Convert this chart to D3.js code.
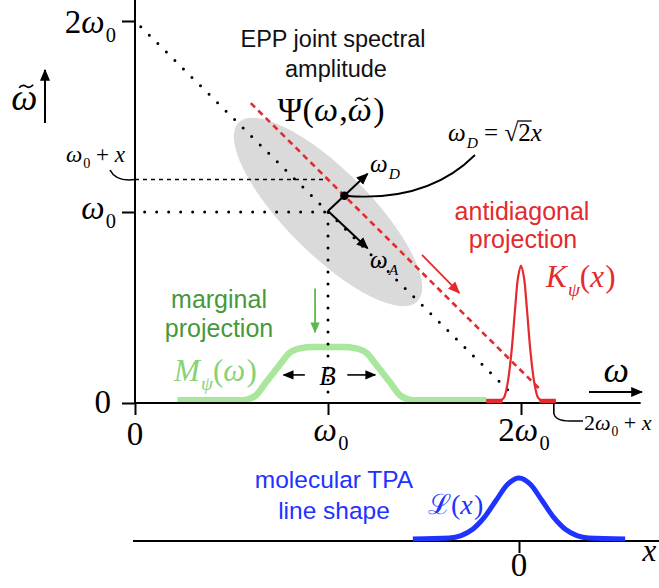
<!DOCTYPE html>
<html><head><meta charset="utf-8">
<script src="https://cdn.jsdelivr.net/npm/d3@7"></script>
<style>body{margin:0;background:#fff} svg{display:block} text{white-space:pre}</style>
</head><body>
<script>
// ---------- data (units of ω0) ----------
const omegaTicks = [0, 1, 2];
const shiftX = 0.17;                 // offset x of the antidiagonal projection line
const jsaCenter = [1, 1];            // centre of the joint spectral amplitude
const jsaSemiMajor = 0.655;
const jsaSemiMinor = 0.218;
const marginalCurve = [[0.22,0.015],[0.56,0.015],[0.62,0.035],[0.68,0.11],[0.715,0.155],[0.75,0.20],[0.80,0.262],[0.86,0.287],[0.92,0.293],[1.08,0.293],[1.14,0.287],[1.20,0.262],[1.25,0.20],[1.285,0.155],[1.32,0.11],[1.38,0.035],[1.44,0.015],[1.82,0.015]];
const kernelCurve = [[1.82,0.012],[1.89,0.012],[1.91,0.025],[1.93,0.10],[1.95,0.26],[1.97,0.50],[1.985,0.66],[2.0,0.72],[2.015,0.66],[2.03,0.50],[2.05,0.26],[2.07,0.10],[2.09,0.025],[2.11,0.012],[2.18,0.012]];
const lineShapeCurve = [[-0.55,0],[-0.36,0.005],[-0.30,0.018],[-0.24,0.051],[-0.18,0.113],[-0.12,0.20],[-0.06,0.285],[0,0.32],[0.06,0.285],[0.12,0.20],[0.18,0.113],[0.24,0.051],[0.30,0.018],[0.36,0.005],[0.55,0]];
const lineShapeTicks = [0];

// ---------- setup ----------
const W = 659, H = 588;
const SERIF = "'Liberation Serif','Times New Roman',serif";
const SANS = "'Liberation Sans',Arial,Helvetica,sans-serif";
const RED = "#e42a2e", GREEN_T = "#46993a", GREEN_A = "#5db84c", GREEN_M = "#87d276", GREEN_C = "#a9e79c", BLUE = "#1e33ff";
const SP = "\u00A0";

const svg = d3.select("body").append("svg").attr("width", W).attr("height", H);
const x = d3.scaleLinear().domain([0, 2]).range([135, 521]);
const y = d3.scaleLinear().domain([0, 2]).range([403, 21]);
const xb = d3.scaleLinear().domain([-1, 1]).range([326, 712]);
const yb = d3.scaleLinear().domain([0, 1]).range([539, 348]);

const defs = svg.append("defs");
function marker(id, color, size) {
  defs.append("marker").attr("id", id).attr("viewBox", "0 0 10 10").attr("refX", 9).attr("refY", 5)
    .attr("markerWidth", size).attr("markerHeight", size).attr("markerUnits", "userSpaceOnUse").attr("orient", "auto")
    .append("path").attr("d", "M0,0.8 L10,5 L0,9.2 Z").attr("fill", color);
}
marker("ahK", "#000", 12);
marker("ahR", RED, 12);
marker("ahG", GREEN_A, 11);
marker("ahKs", "#000", 11);

const line = d3.line().x(d => x(d[0])).y(d => y(d[1]));

// math text: parts = [[text, kind]] kind: i italic, r roman, s italic subscript, sr roman subscript, t italic with tilde
function mseq(px, py, parts, size, opts = {}) {
  const color = opts.color || "#000";
  const g = svg.append("g");
  let cx = 0; const info = [];
  parts.forEach(([s, k]) => {
    const sub = k === "s" || k === "sr";
    const fs = sub ? size * 0.62 : size;
    const t = g.append("text").attr("x", cx).attr("y", sub ? size * 0.28 : 0)
      .attr("font-family", SERIF).attr("font-size", fs).attr("fill", color).text(s);
    if (k === "i" || k === "s" || k === "t") t.attr("font-style", "italic");
    const w = t.node().getComputedTextLength();
    info.push({ x: cx, w });
    if (k === "t") {
      const c = cx + w / 2 + size * 0.05, ty = -size * 0.64;
      const a = size * 0.19;
      g.append("path").attr("d", `M${c - a},${ty + 1.5} C${c - a * 0.6},${ty - 2} ${c - a * 0.25},${ty - 1.2} ${c},${ty} S${c + a * 0.6},${ty + 2} ${c + a},${ty - 1.5}`)
        .attr("fill", "none").attr("stroke", color).attr("stroke-width", size * 0.045);
    }
    cx += w + ((k === "i" || k === "t") ? size * 0.04 : 0);
  });
  const anchor = opts.anchor || "start";
  const off = anchor === "middle" ? -cx / 2 : anchor === "end" ? -cx : 0;
  g.attr("transform", `translate(${px + off},${py})`);
  return { g, info, width: cx };
}
function stext(px, py, s, size, color, anchor = "middle") {
  return svg.append("text").attr("x", px).attr("y", py).attr("font-family", SANS).attr("font-size", size)
    .attr("fill", color).attr("text-anchor", anchor).text(s);
}

// ---------- JSA ellipse ----------
svg.append("ellipse").attr("cx", x(jsaCenter[0])).attr("cy", y(jsaCenter[1]))
  .attr("rx", x(jsaSemiMajor) - x(0)).attr("ry", x(jsaSemiMinor) - x(0))
  .attr("transform", `rotate(45 ${x(jsaCenter[0])} ${y(jsaCenter[1])})`)
  .attr("fill", "#dadada");

// ---------- marginal curve (green) ----------
svg.append("path").datum(marginalCurve).attr("d", line.curve(d3.curveMonotoneX))
  .attr("fill", "none").attr("stroke", GREEN_C).attr("stroke-width", 6.5).attr("stroke-linejoin", "round");

// ---------- dotted guide lines ----------
const dotted = (a, b) => svg.append("path").attr("d", d3.line()([[x(a[0]), y(a[1])], [x(b[0]), y(b[1])]]))
  .attr("stroke", "#000").attr("stroke-width", 3).attr("stroke-linecap", "round").attr("stroke-dasharray", "0 12").attr("fill", "none");
dotted([0.03, 1.97], [1.96, 0.04]);
dotted([0.05, 1], [1, 1]);
dotted([1, 1], [1, 0.03]);
svg.append("path").attr("d", d3.line()([[x(0), y(1 + shiftX)], [x(1), y(1 + shiftX)]]))
  .attr("stroke", "#000").attr("stroke-width", 1.6).attr("stroke-dasharray", "4 4").attr("fill", "none");
svg.append("path").attr("d", d3.line()([[x(0.6), y(1.57)], [x(2.1), y(0.07)]]))
  .attr("stroke", RED).attr("stroke-width", 2.6).attr("stroke-dasharray", "6 4.5").attr("fill", "none");

// ---------- axes ----------
const gx = svg.append("g").attr("transform", `translate(0,${y(0)})`)
  .call(d3.axisBottom(x).tickValues(omegaTicks).tickSize(12).tickSizeOuter(0).tickFormat(""));
gx.select(".domain").remove();
gx.selectAll("line").attr("stroke", "#000").attr("stroke-width", 2);
const gy = svg.append("g").attr("transform", `translate(${x(0)},0)`)
  .call(d3.axisLeft(y).tickValues(omegaTicks).tickSize(13).tickSizeOuter(0).tickFormat(""));
gy.select(".domain").remove();
gy.selectAll("line").attr("stroke", "#000").attr("stroke-width", 2);
svg.append("line").attr("x1", x(0)).attr("x2", x(2.62)).attr("y1", y(0)).attr("y2", y(0)).attr("stroke", "#000").attr("stroke-width", 2);
svg.append("line").attr("x1", x(0)).attr("x2", x(0)).attr("y1", y(0)).attr("y2", 0).attr("stroke", "#000").attr("stroke-width", 2);

// ---------- kernel (red) ----------
svg.append("path").datum(kernelCurve).attr("d", line.curve(d3.curveCatmullRom))
  .attr("fill", "none").attr("stroke", RED).attr("stroke-width", 2.2);
[[1.82, 1.905], [2.095, 2.18]].forEach(([a, b]) =>
  svg.append("line").attr("x1", x(a)).attr("x2", x(b)).attr("y1", y(0) - 2).attr("y2", y(0) - 2)
    .attr("stroke", RED).attr("stroke-width", 4.5));

// ---------- arrows ----------
const arrow = (p, q, color, w, m) => svg.append("line").attr("x1", x(p[0])).attr("y1", y(p[1])).attr("x2", x(q[0])).attr("y2", y(q[1]))
  .attr("stroke", color).attr("stroke-width", w).attr("marker-end", `url(#${m})`);
arrow([1, 1.005], [1.205, 1.2], "#000", 2, "ahK");
arrow([1, 1.005], [1.205, 0.81], "#000", 2, "ahK");
arrow([1.487, 0.775], [1.68, 0.577], RED, 1.8, "ahR");
arrow([0.933, 0.60], [0.933, 0.37], GREEN_A, 1.8, "ahG");
arrow([0.88, 0.147], [0.77, 0.147], "#000", 1.6, "ahKs");
arrow([1.10, 0.147], [1.245, 0.147], "#000", 1.6, "ahKs");

svg.append("circle").attr("cx", x(1 + shiftX / 2)).attr("cy", y(1 + shiftX / 2)).attr("r", 4.3).attr("fill", "#000");

// callouts
svg.append("path").attr("d", `M${x(1 + shiftX / 2)},${y(1 + shiftX / 2)} C395,200 440,190 475,155`).attr("fill", "none").attr("stroke", "#000").attr("stroke-width", 1.8);
svg.append("path").attr("d", `M110,170 Q116,182 ${x(0)},${y(1 + shiftX)}`).attr("fill", "none").attr("stroke", "#000").attr("stroke-width", 1.6);
svg.append("path").attr("d", `M${x(2 + shiftX)},${y(0)} L${x(2 + shiftX)},413 Q${x(2 + shiftX) + 1},421 570,421 L583,421`).attr("fill", "none").attr("stroke", "#000").attr("stroke-width", 1.6);

// axis direction arrows
svg.append("line").attr("x1", 589).attr("x2", 642).attr("y1", 392).attr("y2", 392).attr("stroke", "#000").attr("stroke-width", 2).attr("marker-end", "url(#ahK)");
svg.append("line").attr("x1", 45).attr("x2", 45).attr("y1", 123).attr("y2", 70).attr("stroke", "#000").attr("stroke-width", 2).attr("marker-end", "url(#ahK)");

// ---------- line shape (blue) ----------
svg.append("line").attr("x1", 133).attr("x2", W).attr("y1", 541).attr("y2", 541).attr("stroke", "#000").attr("stroke-width", 2);
svg.append("g").attr("transform", "translate(0,541)")
  .call(d3.axisBottom(xb).tickValues(lineShapeTicks).tickSize(12).tickSizeOuter(0).tickFormat(""))
  .call(g => g.select(".domain").remove())
  .selectAll("line").attr("stroke", "#000").attr("stroke-width", 2);
svg.append("path").datum(lineShapeCurve)
  .attr("d", d3.line().x(d => xb(d[0])).y(d => yb(d[1])).curve(d3.curveMonotoneX))
  .attr("fill", "none").attr("stroke", BLUE).attr("stroke-width", 5).attr("stroke-linecap", "butt");

// ---------- texts ----------
stext(333, 47, "EPP joint spectral", 23.5, "#111");
stext(336, 77, "amplitude", 23.5, "#111");
mseq(331, 121, [["Ψ(", "r"], ["ω", "i"], [",", "r"], ["ω", "t"], [")", "r"]], 34, { anchor: "middle" });
const wd = mseq(448, 141, [["ω", "i"], ["D", "s"], [SP + "=" + SP, "r"], ["√", "r"], ["2", "r"], ["x", "i"]], 25);
wd.g.append("line").attr("x1", wd.info[3].x + wd.info[3].w - 1).attr("x2", wd.info[4].x + wd.info[4].w + 1)
  .attr("y1", -25 * 0.8).attr("y2", -25 * 0.8).attr("stroke", "#000").attr("stroke-width", 1.3);
mseq(370, 172, [["ω", "i"], ["D", "s"]], 25);
mseq(370, 268, [["ω", "i"], ["A", "s"]], 25);

stext(522, 220, "antidiagonal", 25, RED);
stext(523, 248, "projection", 25, RED);
mseq(546, 287, [["K", "i"], ["ψ", "s"], ["(", "r"], ["x", "i"], [")", "r"]], 31, { color: RED });

stext(219, 308, "marginal", 25, GREEN_T);
stext(219, 337, "projection", 25, GREEN_T);
mseq(174, 381, [["M", "i"], ["ψ", "s"], ["(", "r"], ["ω", "i"], [")", "r"]], 31, { color: GREEN_M });
mseq(x(1), 385, [["B", "i"]], 27, { anchor: "middle" });

// tick labels
mseq(116, 33, [["2", "r"], ["ω", "i"], ["0", "sr"]], 33, { anchor: "end" });
mseq(116, 219, [["ω", "i"], ["0", "sr"]], 33, { anchor: "end" });
mseq(111, 413, [["0", "r"]], 33, { anchor: "end" });
mseq(x(0), 445, [["0", "r"]], 33, { anchor: "middle" });
mseq(x(1) + 3, 441, [["ω", "i"], ["0", "sr"]], 33, { anchor: "middle" });
mseq(x(2) + 3, 441, [["2", "r"], ["ω", "i"], ["0", "sr"]], 33, { anchor: "middle" });

mseq(25, 110, [["ω", "t"]], 37, { anchor: "middle" });
mseq(66, 162, [["ω", "i"], ["0", "sr"], [SP + "+" + SP, "r"], ["x", "i"]], 23);
mseq(584, 430, [["2", "r"], ["ω", "i"], ["0", "sr"], [SP + "+" + SP, "r"], ["x", "i"]], 22);
mseq(617, 382, [["ω", "i"]], 36, { anchor: "middle" });

stext(334, 488, "molecular TPA", 24.5, BLUE);
stext(334, 519, "line shape", 24.5, BLUE);
mseq(428, 514, [["ℒ", "r"], ["(", "r"], ["x", "i"], [")", "r"]], 28, { color: BLUE });
mseq(xb(0), 576, [["0", "r"]], 33, { anchor: "middle" });
mseq(650, 561, [["x", "i"]], 31, { anchor: "middle" });
</script>
</body></html>
